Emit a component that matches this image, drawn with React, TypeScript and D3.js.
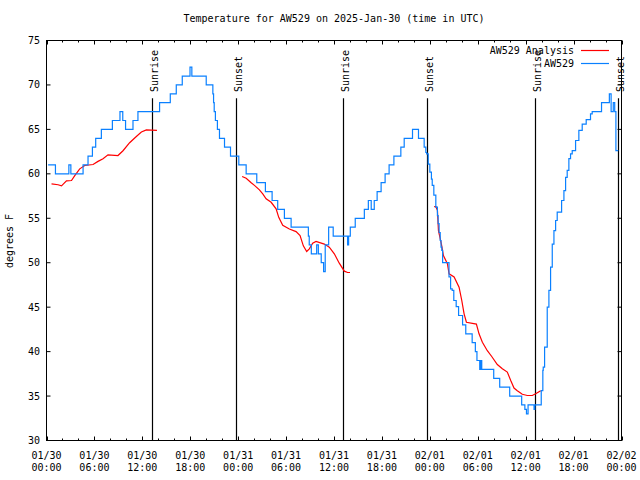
import React from "react";
import * as d3 from "d3";

// hours since 2025-01-30 00:00 UTC
const blueHours = [0.2, 1.12, 2.8, 3.05, 4.58, 5.2, 5.75, 6.16, 6.87, 8.25, 9.2, 9.55, 9.9, 10.83, 11.45, 14.16, 15.5, 16.25, 17.0, 17.97, 18.2, 20.0, 20.83, 20.92, 21.0, 21.15, 21.4, 21.66, 22.29, 23.04, 24.08, 25.0, 26.33, 27.41, 28.25, 28.95, 29.79, 30.63, 32.79, 32.9, 33.16, 33.83, 34.04, 34.4, 34.7, 34.9, 35.33, 35.9, 37.7, 37.83, 38.04, 38.66, 39.8, 40.3, 40.66, 41.04, 41.4, 41.9, 42.4, 42.9, 43.5, 44.37, 44.79, 45.83, 46.58, 47.29, 47.5, 47.6, 47.8, 48.0, 48.2, 48.3, 48.5, 48.75, 48.95, 49.04, 49.16, 49.3, 49.4, 49.5, 49.6, 50.4, 50.6, 50.8, 51.0, 51.3, 51.6, 52.1, 52.5, 53.3, 53.7, 53.9, 54.25, 54.4, 54.5, 56.0, 56.75, 58.0, 59.5, 59.9, 60.1, 60.3, 61.05, 61.15, 61.95, 62.15, 62.2, 62.37, 62.7, 62.91, 63.12, 63.33, 63.54, 63.75, 63.95, 64.5, 64.79, 65.0, 65.2, 65.41, 65.62, 65.83, 66.25, 66.66, 67.08, 67.58, 68.12, 68.33, 69.5, 70.48, 70.7, 70.97, 71.15, 71.3, 71.6];
const blueTemps = [61, 60, 61, 60, 61, 62, 63, 64, 65, 66, 67, 66, 65, 66, 67, 68, 69, 70, 71, 72, 71, 70, 69, 68, 67, 66, 65, 64, 63, 62, 61, 60, 59, 58, 57, 56, 55, 54, 53, 52, 51, 52, 51, 50, 49, 52, 54, 53, 52, 53, 54, 55, 56, 57, 56, 57, 58, 59, 60, 61, 62, 63, 64, 65, 64, 63, 62.4, 62.25, 61.1, 60.2, 59.4, 58.7, 57.6, 56.25, 55.3, 54.4, 53.4, 52.5, 51.75, 51.4, 50, 48.4, 47.06, 46.9, 45.75, 45.07, 44.06, 43, 42, 41, 40, 39, 38, 39, 38, 37, 36, 35, 34, 33.5, 33, 34, 33.5, 34, 35.6, 37.9, 38.25, 40.5, 45.0, 46.9, 49.5, 52.1, 53.6, 54.75, 55.7, 57, 58.1, 59.6, 60.4, 61.7, 62.25, 62.6, 63.75, 64.9, 65.6, 66.1, 66.75, 67, 68, 69, 67, 68, 67, 62.6, 62.6];

const redHours1 = [0.63, 1.45, 1.88, 2.5, 3.13, 3.54, 4.16, 4.79, 5.83, 6.45, 7.08, 7.7, 8.95, 9.58, 10.41, 11.25, 11.88, 12.5, 13.83];
const redTemps1 = [58.88, 58.77, 58.65, 59.2, 59.25, 59.8, 60.56, 60.94, 61.05, 61.4, 61.7, 62.14, 62.06, 62.6, 63.5, 64.2, 64.7, 64.95, 64.9];
const redHours2 = [24.5, 25.0, 25.63, 26.04, 26.66, 27.08, 27.5, 28.13, 28.75, 29.08, 29.58, 30.41, 31.25, 31.75, 32.16, 32.58, 32.91, 33.33, 33.75, 34.79, 35.41, 36.04, 36.66, 37.29, 37.7, 38.0];
const redTemps2 = [59.7, 59.5, 59.0, 58.7, 58.2, 57.75, 57.2, 56.8, 56.07, 55.1, 54.2, 53.8, 53.5, 53.06, 51.9, 51.26, 51.56, 52.2, 52.4, 52.1, 51.75, 51.0, 49.95, 49.05, 48.9, 48.9];
const redHours3 = [48.54, 48.75, 48.95, 49.08, 49.45, 49.7, 50.2, 50.41, 51.04, 51.66, 52.0, 52.29, 52.58, 53.83, 54.16, 54.58, 55.2, 55.75, 56.45, 57.08, 57.7, 58.13, 58.54, 58.95, 59.58, 60.2, 60.83, 61.25, 61.88];
const redTemps3 = [56.3, 56.3, 55.9, 53.6, 52.1, 50.8, 49.9, 48.75, 48.4, 47.25, 45.75, 44.25, 43.3, 43.1, 42.0, 41.06, 40.1, 39.45, 38.55, 38.07, 37.7, 36.75, 35.9, 35.6, 35.2, 35.06, 35.06, 35.25, 35.6];

const eventHours = [13.2, 23.7, 37.08, 47.63, 61.13, 71.58];
const eventNames = ["Sunrise", "Sunset", "Sunrise", "Sunset", "Sunrise", "Sunset"];

const yTicks = [30, 35, 40, 45, 50, 55, 60, 65, 70, 75];
const legendNames = ["AW529 Analysis", "AW529"];
const legendColors = ["#ff0000", "#0a80ff"];
const titleText = "Temperature for AW529 on 2025-Jan-30 (time in UTC)";
const yLabel = "degrees F";

const START = Date.UTC(2025, 0, 30);
const toDate = (h: number) => new Date(START + h * 3600000);

export default function App() {
  const x = d3.scaleUtc().domain([toDate(0), toDate(72)]).range([46.5, 621.5]);
  const y = d3.scaleLinear().domain([30, 75]).range([440.5, 40.5]);
  const font = "'DejaVu Sans Mono', monospace";

  const blue = blueHours.map((h, i) => [toDate(h), blueTemps[i]] as [Date, number]);
  const reds = [
    [redHours1, redTemps1],
    [redHours2, redTemps2],
    [redHours3, redTemps3],
  ].map(([hs, ts]) => hs.map((h, i) => [toDate(h), ts[i]] as [Date, number]));

  const stepLine = d3
    .line<[Date, number]>()
    .x((d) => x(d[0]))
    .y((d) => y(d[1]))
    .curve(d3.curveStepAfter);
  const linLine = d3
    .line<[Date, number]>()
    .x((d) => x(d[0]))
    .y((d) => y(d[1]));

  const minorTicks = x.ticks(d3.utcHour.every(2)!);
  const majorTicks = x.ticks(d3.utcHour.every(6)!);
  const fmtD = d3.utcFormat("%m/%d");
  const fmtT = d3.utcFormat("%H:%M");

  const [x0, x1] = x.range();
  const [y0, y1] = y.range();

  return (
    <svg
      width={640}
      height={480}
      style={{ position: "absolute", left: 0, top: 0, background: "#fff" }}
      fontFamily={font}
      fontSize={10}
    >
      <rect x={0} y={0} width={640} height={480} fill="#fff" />
      <text x={334} y={22} textAnchor="middle">{titleText}</text>

      {/* x ticks */}
      {minorTicks.map((t, i) => {
        const isMajor = t.getUTCHours() % 6 === 0;
        const len = isMajor ? 4 : 2;
        const xp = Math.round(x(t)) + 0.5;
        return (
          <g key={"xt" + i} stroke="#000">
            <line x1={xp} x2={xp} y1={y0} y2={y0 - len} />
            <line x1={xp} x2={xp} y1={y1} y2={y1 + len} />
          </g>
        );
      })}
      {majorTicks.map((t, i) => (
        <g key={"xl" + i}>
          <text x={x(t)} y={459} textAnchor="middle">{fmtD(t)}</text>
          <text x={x(t)} y={471} textAnchor="middle">{fmtT(t)}</text>
        </g>
      ))}

      {/* y ticks */}
      {yTicks.map((v, i) => (
        <g key={"yt" + i}>
          <line x1={x0} x2={x0 + 4} y1={y(v)} y2={y(v)} stroke="#000" />
          <line x1={x1} x2={x1 - 4} y1={y(v)} y2={y(v)} stroke="#000" />
          <text x={40} y={y(v)} dy="0.35em" textAnchor="end">{v}</text>
        </g>
      ))}
      <text transform={`translate(13,241) rotate(-90)`} textAnchor="middle">{yLabel}</text>

      {/* events */}
      {eventHours.map((h, i) => {
        const xp = Math.round(x(toDate(h))) + 0.5;
        return (
          <g key={"ev" + i}>
            <line x1={xp} x2={xp} y1={y(30)} y2={y(68.5)} stroke="#000" strokeWidth={1.2} />
            <text transform={`translate(${xp + 5.5},92) rotate(-90)`}>{eventNames[i]}</text>
          </g>
        );
      })}

      {/* series */}
      {reds.map((r, i) => (
        <path key={"r" + i} d={linLine(r)!} fill="none" stroke={legendColors[0]} strokeWidth={1.2} />
      ))}
      <path d={stepLine(blue)!} fill="none" stroke={legendColors[1]} strokeWidth={1.2} />

      {/* frame */}
      <rect x={x0} y={y1} width={x1 - x0} height={y0 - y1} fill="none" stroke="#000" />

      {/* legend */}
      {legendNames.map((n, i) => (
        <g key={"lg" + i}>
          <text x={574} y={50 + i * 13} dy="0.35em" textAnchor="end">{n}</text>
          <line x1={581} x2={609} y1={50.5 + i * 13} y2={50.5 + i * 13} stroke={legendColors[i]} strokeWidth={1.2} />
        </g>
      ))}
    </svg>
  );
}
